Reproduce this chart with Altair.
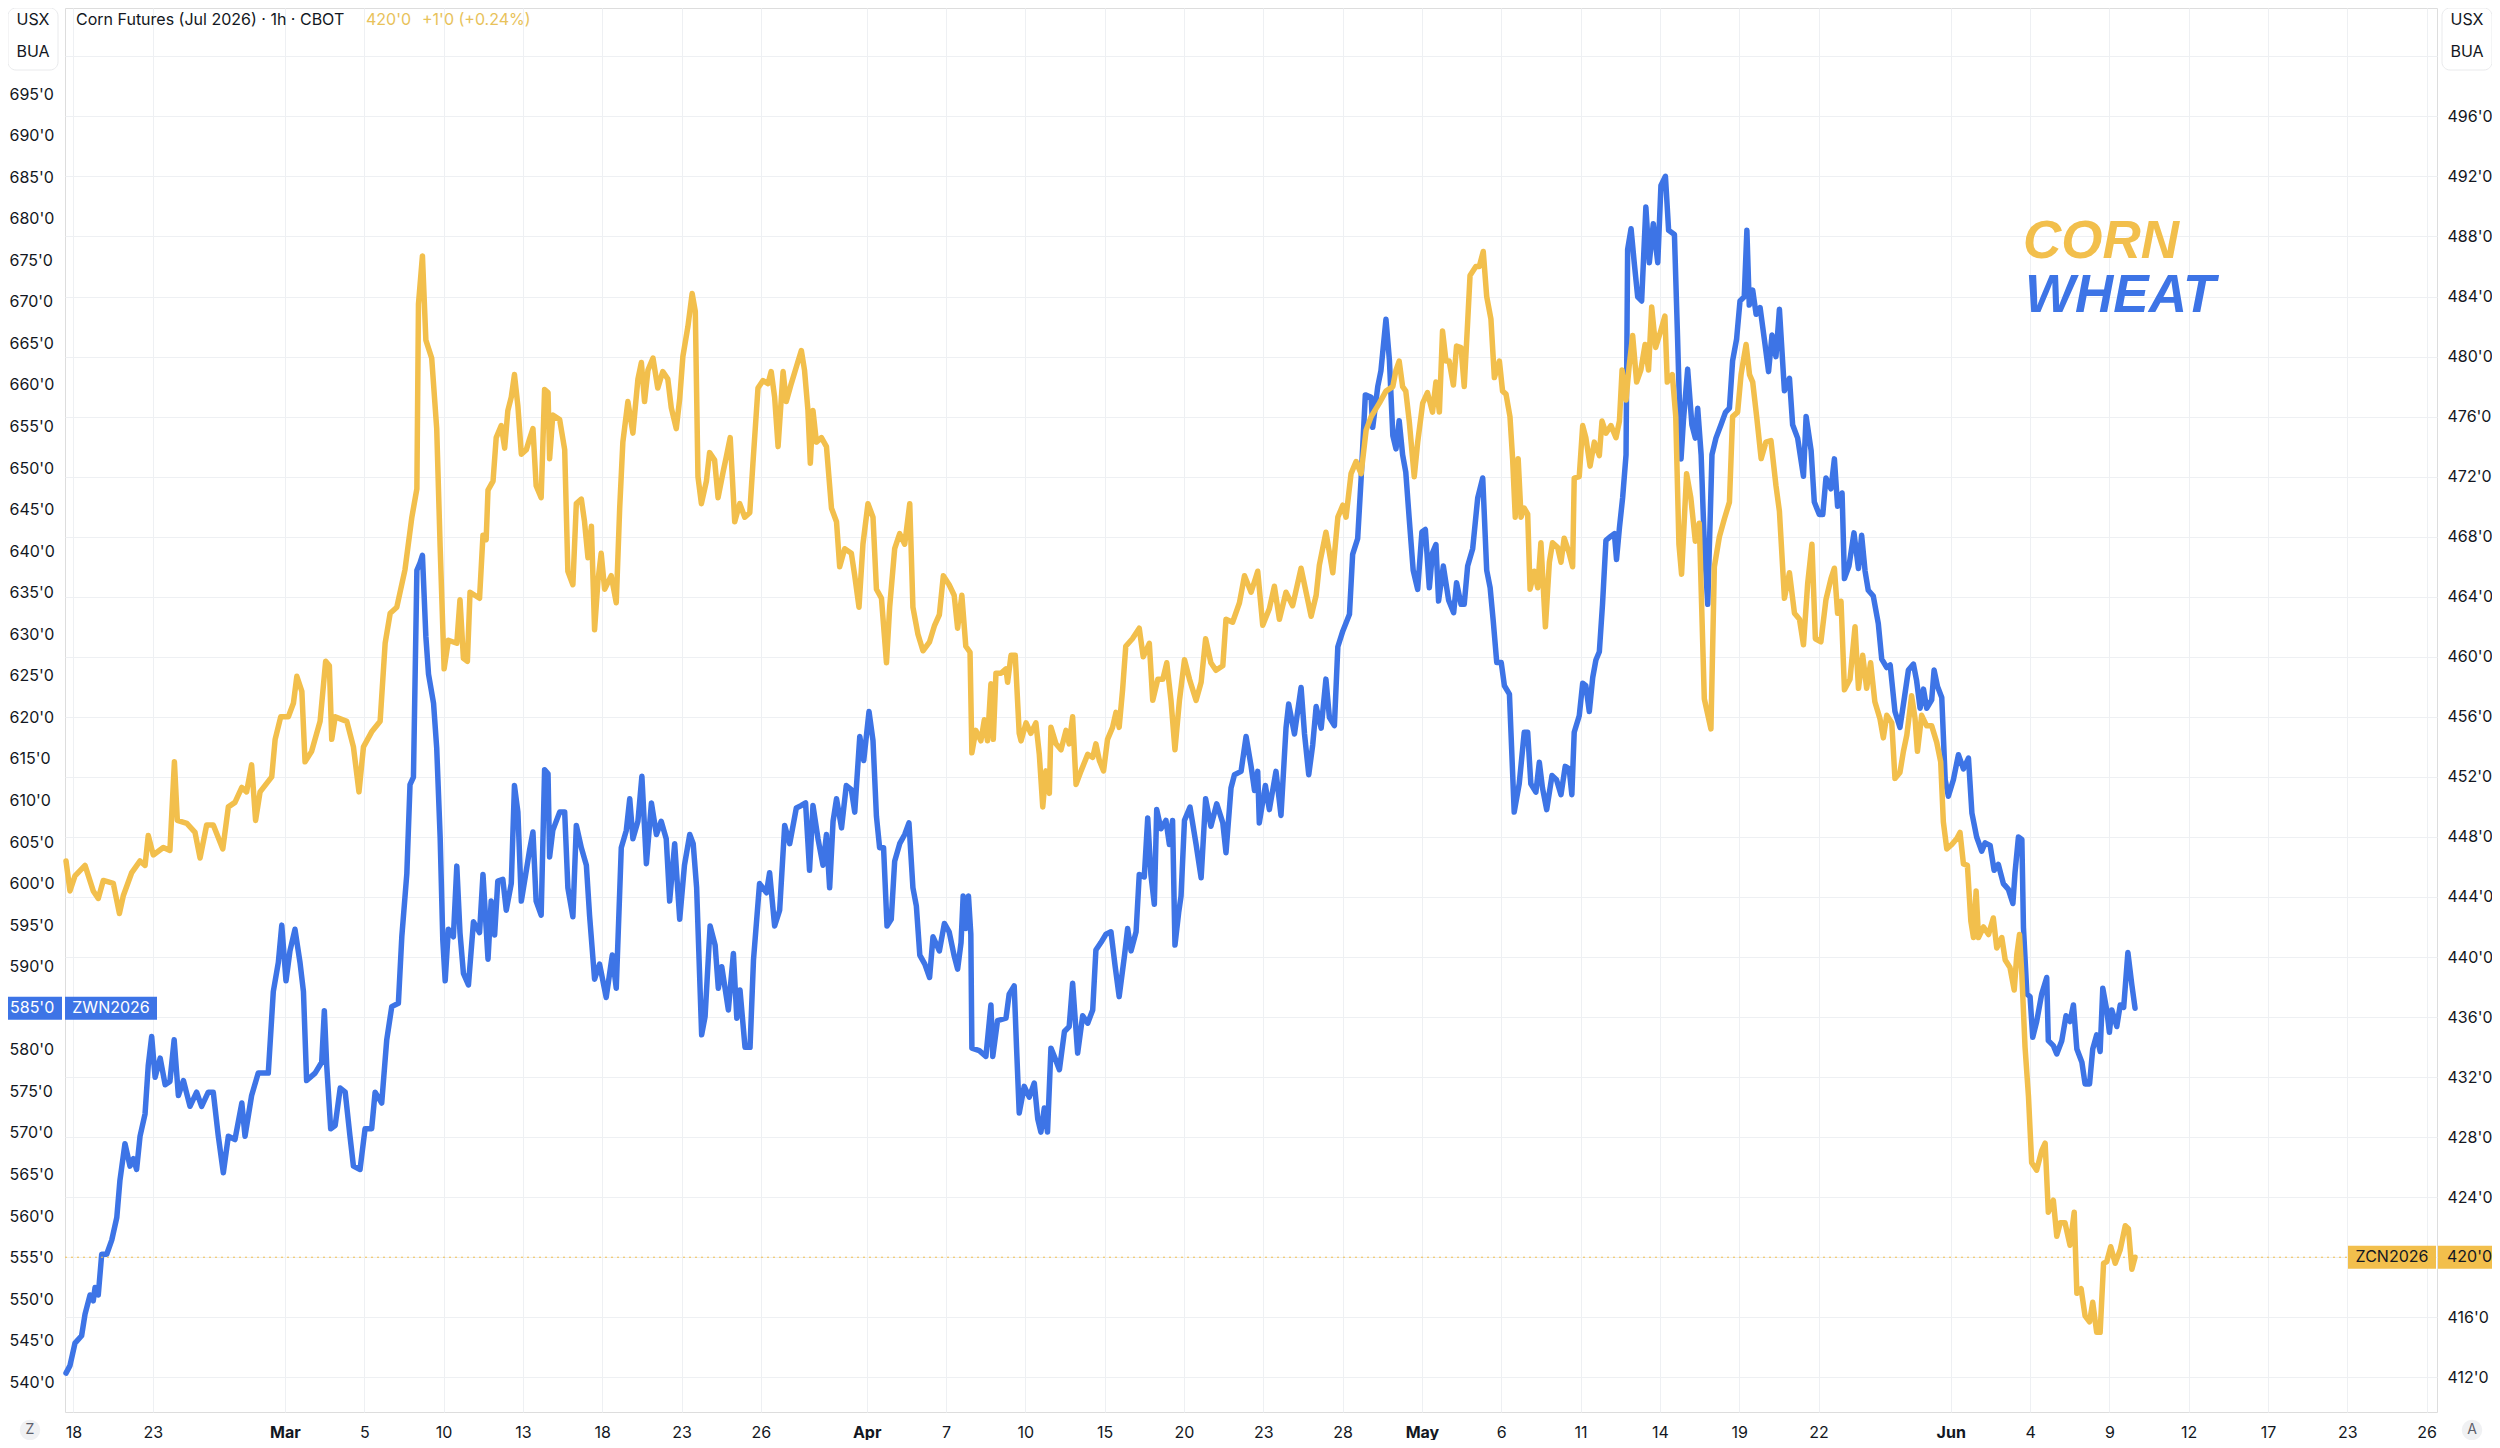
import altair as alt
import pandas as pd

# ---------------- data (x = trading-day index, Feb 18 = 0) ----------------
corn = [
    (-0.28, 446.4), (-0.13, 444.4), (0.06, 445.4), (0.44, 446.1), (0.75, 444.4), (0.94, 443.9), (1.13, 445.1), (1.51, 444.9),
    (1.74, 442.9), (1.89, 444.1), (2.20, 445.6), (2.52, 446.4), (2.71, 446.1), (2.83, 448.1), (3.02, 446.8), (3.40, 447.3),
    (3.65, 447.1), (3.82, 453.0), (3.93, 449.1), (4.29, 448.9), (4.60, 448.3), (4.79, 446.6), (5.04, 448.8), (5.29, 448.8),
    (5.65, 447.2), (5.86, 450.0), (6.11, 450.3), (6.37, 451.3), (6.55, 451.0), (6.74, 452.8), (6.89, 449.1), (7.06, 451.0),
    (7.50, 452.0), (7.63, 454.5), (7.84, 456.0), (8.13, 456.0), (8.32, 456.9), (8.45, 458.7), (8.64, 457.7), (8.76, 453.0),
    (9.01, 453.7), (9.33, 455.7), (9.54, 459.7), (9.68, 459.4), (9.77, 454.5), (9.90, 456.0), (10.34, 455.7), (10.59, 454.0),
    (10.80, 451.0), (10.97, 454.0), (11.28, 455.0), (11.60, 455.7), (11.79, 460.9), (11.98, 462.9), (12.23, 463.3), (12.54, 465.8),
    (12.80, 469.3), (12.99, 471.2), (13.05, 483.5), (13.20, 486.7), (13.33, 481.1), (13.55, 479.9), (13.74, 475.2), (13.87, 467.3),
    (14.02, 459.2), (14.18, 461.1), (14.50, 460.9), (14.62, 463.8), (14.75, 459.9), (14.90, 459.7), (15.00, 464.3), (15.36, 463.9),
    (15.49, 468.1), (15.61, 467.8), (15.68, 471.1), (15.87, 471.7), (15.99, 474.6), (16.18, 475.4), (16.31, 473.9), (16.43, 476.4),
    (16.56, 477.3), (16.68, 478.8), (16.81, 476.7), (16.94, 473.5), (17.13, 473.8), (17.25, 474.5), (17.38, 475.2), (17.50, 471.4),
    (17.69, 470.6), (17.82, 477.8), (17.95, 477.6), (18.01, 473.2), (18.13, 476.1), (18.39, 475.8), (18.58, 473.8), (18.70, 465.7),
    (18.89, 464.8), (19.02, 470.2), (19.21, 470.5), (19.33, 469.0), (19.46, 466.6), (19.59, 468.7), (19.71, 461.8), (19.84, 465.1),
    (19.96, 466.9), (20.09, 464.5), (20.34, 465.4), (20.53, 463.6), (20.66, 469.9), (20.78, 474.3), (20.97, 477.0), (21.16, 474.9),
    (21.35, 478.5), (21.48, 479.6), (21.60, 477.0), (21.73, 479.1), (21.92, 479.9), (22.10, 477.9), (22.29, 479.0), (22.48, 478.5),
    (22.61, 476.6), (22.80, 475.2), (22.93, 477.2), (23.05, 480.0), (23.24, 482.0), (23.40, 484.2), (23.52, 483.0), (23.62, 472.0),
    (23.75, 470.2), (23.94, 471.7), (24.06, 473.6), (24.25, 473.1), (24.38, 470.6), (24.57, 472.3), (24.69, 473.3), (24.84, 474.6),
    (25.01, 469.0), (25.20, 470.2), (25.39, 469.3), (25.58, 469.6), (25.70, 472.9), (25.89, 477.9), (26.08, 478.4), (26.27, 478.2),
    (26.39, 479.0), (26.52, 477.3), (26.65, 474.0), (26.84, 479.0), (26.96, 477.0), (27.15, 478.2), (27.34, 479.3), (27.53, 480.4),
    (27.65, 479.1), (27.78, 476.4), (27.87, 472.9), (27.97, 476.4), (28.10, 474.3), (28.29, 474.6), (28.48, 474.0), (28.67, 469.9),
    (28.86, 469.0), (28.98, 466.0), (29.17, 467.2), (29.42, 466.9), (29.55, 465.4), (29.71, 463.3), (29.86, 467.5), (30.05, 470.2),
    (30.24, 469.3), (30.37, 464.5), (30.56, 463.9), (30.75, 459.6), (30.87, 463.3), (31.06, 467.2), (31.25, 468.2), (31.44, 467.5),
    (31.63, 470.2), (31.75, 463.3), (31.94, 461.5), (32.13, 460.4), (32.38, 461.0), (32.57, 462.1), (32.75, 462.8), (32.90, 465.4),
    (33.12, 464.8), (33.31, 464.1), (33.44, 461.9), (33.60, 464.1), (33.75, 460.7), (33.91, 460.3), (33.98, 453.6), (34.13, 455.1),
    (34.32, 454.4), (34.45, 455.8), (34.57, 454.4), (34.70, 458.2), (34.79, 454.5), (34.89, 458.9), (35.08, 458.9), (35.27, 459.2),
    (35.33, 458.3), (35.46, 460.1), (35.62, 460.1), (35.77, 454.9), (35.84, 454.4), (36.03, 455.6), (36.21, 454.9), (36.40, 455.6),
    (36.53, 453.5), (36.66, 450.0), (36.78, 452.4), (36.91, 450.9), (36.97, 455.3), (37.16, 454.2), (37.35, 453.8), (37.54, 455.1),
    (37.66, 454.2), (37.79, 456.0), (37.92, 451.5), (38.11, 452.4), (38.36, 453.5), (38.55, 453.3), (38.67, 454.2), (38.80, 453.1),
    (38.96, 452.4), (39.11, 454.5), (39.30, 455.3), (39.43, 456.3), (39.55, 455.3), (39.68, 457.8), (39.80, 460.7), (40.05, 461.2),
    (40.31, 461.9), (40.46, 460.0), (40.69, 460.9), (40.82, 457.1), (41.01, 458.5), (41.20, 458.5), (41.35, 459.6), (41.51, 457.1),
    (41.66, 453.8), (41.83, 457.1), (42.02, 459.8), (42.21, 458.5), (42.46, 457.1), (42.65, 458.3), (42.82, 461.2), (43.02, 459.6),
    (43.21, 459.1), (43.47, 459.4), (43.59, 462.5), (43.84, 462.3), (44.10, 463.6), (44.29, 465.4), (44.54, 464.3), (44.79, 465.7),
    (44.98, 462.1), (45.23, 463.2), (45.42, 464.7), (45.61, 462.5), (45.86, 464.3), (46.11, 463.4), (46.43, 465.9), (46.62, 464.3),
    (46.81, 462.7), (47.00, 464.1), (47.12, 466.1), (47.37, 468.3), (47.63, 465.6), (47.82, 469.3), (48.01, 470.1), (48.13, 469.3),
    (48.32, 472.2), (48.51, 473.0), (48.70, 472.2), (48.89, 475.1), (49.08, 476.0), (49.39, 476.9), (49.64, 477.7), (49.90, 478.0),
    (50.02, 479.1), (50.14, 479.7), (50.27, 478.0), (50.39, 477.7), (50.52, 475.7), (50.71, 472.0), (50.84, 474.3), (51.03, 476.9),
    (51.21, 477.6), (51.40, 476.3), (51.53, 478.3), (51.66, 476.3), (51.78, 481.7), (51.91, 479.7), (52.03, 479.7), (52.19, 478.1),
    (52.31, 480.7), (52.48, 480.6), (52.60, 478.0), (52.73, 482.3), (52.82, 485.4), (53.04, 486.0), (53.17, 486.0), (53.32, 487.0),
    (53.45, 484.0), (53.61, 482.5), (53.74, 478.6), (53.93, 479.7), (54.05, 477.7), (54.18, 477.5), (54.33, 476.0), (54.43, 473.2),
    (54.53, 469.3), (54.64, 473.2), (54.75, 469.3), (54.87, 469.9), (55.00, 469.5), (55.09, 464.5), (55.25, 465.7), (55.38, 464.6),
    (55.50, 467.6), (55.67, 462.0), (55.82, 466.3), (55.94, 467.6), (56.13, 467.3), (56.26, 466.3), (56.38, 467.9), (56.57, 466.9),
    (56.70, 466.0), (56.76, 471.9), (56.95, 472.0), (57.08, 475.4), (57.20, 474.6), (57.36, 472.7), (57.52, 474.3), (57.71, 473.4),
    (57.81, 475.7), (57.96, 474.9), (58.15, 475.4), (58.34, 474.6), (58.47, 475.7), (58.57, 479.1), (58.72, 477.1), (58.84, 479.4),
    (58.97, 481.4), (59.12, 478.3), (59.28, 479.1), (59.44, 480.8), (59.57, 479.1), (59.69, 483.3), (59.84, 480.6), (60.03, 481.7),
    (60.19, 482.7), (60.28, 478.3), (60.47, 478.8), (60.60, 476.0), (60.72, 467.5), (60.82, 465.5), (61.01, 472.2), (61.17, 470.6),
    (61.34, 467.7), (61.49, 468.9), (61.68, 457.2), (61.93, 455.2), (62.06, 466.0), (62.25, 468.0), (62.44, 469.2), (62.63, 470.3),
    (62.75, 476.0), (62.94, 476.3), (63.07, 478.8), (63.26, 480.8), (63.39, 478.8), (63.51, 478.3), (63.66, 476.0), (63.83, 473.2),
    (64.01, 474.3), (64.20, 474.4), (64.39, 471.4), (64.52, 469.7), (64.71, 463.9), (64.90, 465.6), (65.09, 462.9), (65.28, 462.5),
    (65.43, 460.8), (65.59, 464.9), (65.75, 467.5), (65.88, 461.2), (66.09, 461.0), (66.28, 463.8), (66.47, 465.2), (66.60, 465.9),
    (66.72, 462.9), (66.85, 463.7), (66.98, 457.8), (67.19, 458.5), (67.38, 462.0), (67.51, 457.9), (67.67, 460.1), (67.82, 457.9),
    (67.97, 459.6), (68.13, 457.0), (68.32, 455.9), (68.45, 454.6), (68.58, 456.1), (68.77, 455.6), (68.89, 451.9), (69.08, 452.3),
    (69.21, 453.7), (69.34, 454.8), (69.52, 457.4), (69.65, 455.9), (69.74, 453.7), (69.90, 456.1), (70.09, 455.4), (70.28, 455.4),
    (70.47, 454.3), (70.62, 453.0), (70.72, 449.0), (70.85, 447.2), (71.04, 447.5), (71.23, 447.9), (71.35, 448.3), (71.48, 446.2),
    (71.63, 446.1), (71.76, 442.4), (71.86, 441.3), (71.96, 444.4), (72.05, 441.3), (72.24, 442.0), (72.43, 441.5), (72.61, 442.6),
    (72.74, 440.6), (72.93, 441.3), (73.06, 439.8), (73.24, 439.3), (73.40, 437.8), (73.50, 440.2), (73.60, 441.5), (73.69, 438.8),
    (73.81, 434.0), (73.94, 430.7), (74.06, 426.3), (74.25, 425.8), (74.44, 427.1), (74.57, 427.6), (74.69, 423.0), (74.88, 423.8),
    (75.01, 421.4), (75.14, 422.3), (75.32, 422.3), (75.51, 420.8), (75.67, 423.0), (75.77, 417.6), (75.93, 417.9), (76.08, 416.1),
    (76.25, 415.7), (76.37, 417.0), (76.52, 415.0), (76.65, 415.0), (76.78, 419.6), (76.90, 419.7), (77.05, 420.7), (77.22, 419.6),
    (77.41, 420.5), (77.60, 422.1), (77.72, 421.9), (77.85, 419.2), (77.97, 420.0),
]

wheat = [
    (-0.28, 541.1), (-0.13, 542.0), (0.06, 544.7), (0.31, 545.6), (0.44, 548.2), (0.63, 550.5), (0.75, 549.8), (0.82, 551.4),
    (0.94, 550.5), (1.07, 555.4), (1.26, 555.4), (1.45, 557.1), (1.64, 559.8), (1.76, 564.3), (1.95, 568.7), (2.14, 566.0),
    (2.27, 566.9), (2.39, 565.6), (2.52, 569.6), (2.71, 572.3), (2.83, 578.1), (2.96, 581.6), (3.09, 576.7), (3.28, 579.0),
    (3.47, 575.8), (3.65, 576.2), (3.81, 581.2), (3.97, 574.5), (4.16, 576.3), (4.41, 573.2), (4.66, 574.9), (4.85, 573.2),
    (5.10, 574.9), (5.29, 574.9), (5.48, 569.6), (5.67, 565.2), (5.86, 569.6), (6.11, 569.2), (6.37, 573.6), (6.49, 569.6),
    (6.74, 574.5), (6.99, 577.2), (7.37, 577.2), (7.56, 587.0), (7.75, 590.5), (7.88, 595.0), (8.04, 588.3), (8.19, 591.9),
    (8.38, 594.5), (8.57, 590.5), (8.70, 587.0), (8.82, 576.3), (9.14, 577.2), (9.39, 578.5), (9.49, 584.7), (9.58, 578.1),
    (9.73, 570.5), (9.90, 570.9), (10.09, 575.4), (10.28, 574.9), (10.46, 569.6), (10.59, 566.0), (10.84, 565.6), (11.03, 570.5),
    (11.28, 570.5), (11.41, 574.9), (11.66, 573.6), (11.85, 581.2), (12.04, 585.2), (12.29, 585.6), (12.42, 593.6), (12.61, 601.2),
    (12.73, 611.9), (12.86, 612.8), (12.99, 637.7), (13.11, 638.6), (13.20, 639.5), (13.33, 629.7), (13.43, 625.2), (13.62, 621.7),
    (13.74, 616.3), (13.87, 605.6), (13.97, 593.2), (14.06, 588.3), (14.18, 594.5), (14.37, 593.6), (14.50, 602.1), (14.62, 594.1),
    (14.75, 589.2), (14.94, 587.8), (15.13, 595.4), (15.36, 594.1), (15.49, 601.1), (15.68, 590.9), (15.80, 597.9), (15.93, 593.8),
    (16.05, 600.3), (16.24, 600.5), (16.37, 596.8), (16.56, 600.0), (16.68, 611.8), (16.81, 608.6), (16.94, 597.9), (17.13, 601.6),
    (17.25, 604.0), (17.38, 606.2), (17.50, 597.9), (17.69, 596.2), (17.82, 613.7), (17.95, 613.2), (18.01, 603.2), (18.13, 606.4),
    (18.39, 608.6), (18.58, 608.6), (18.70, 599.5), (18.89, 596.0), (19.02, 607.0), (19.21, 604.3), (19.40, 602.2), (19.52, 596.2),
    (19.71, 588.5), (19.90, 590.3), (20.15, 586.3), (20.38, 591.4), (20.53, 587.4), (20.72, 604.3), (20.91, 606.4), (21.04, 610.2),
    (21.16, 605.4), (21.35, 607.5), (21.50, 612.9), (21.67, 602.4), (21.86, 609.7), (22.05, 605.9), (22.23, 607.5), (22.42, 605.4),
    (22.55, 597.9), (22.74, 604.8), (22.93, 595.7), (23.11, 602.2), (23.31, 605.9), (23.44, 604.8), (23.57, 599.5), (23.76, 581.8),
    (23.89, 584.0), (24.08, 594.9), (24.27, 592.6), (24.39, 587.4), (24.52, 590.0), (24.77, 584.8), (24.96, 591.6), (25.09, 583.8),
    (25.21, 587.2), (25.40, 580.3), (25.59, 580.3), (25.72, 590.8), (25.95, 600.0), (26.21, 598.9), (26.33, 601.3), (26.52, 594.9),
    (26.71, 596.8), (26.90, 607.0), (27.09, 604.8), (27.34, 609.1), (27.53, 609.4), (27.69, 609.7), (27.84, 601.6), (27.97, 609.4),
    (28.16, 605.4), (28.35, 602.2), (28.48, 605.9), (28.60, 599.5), (28.73, 607.5), (28.86, 610.2), (29.05, 606.7), (29.23, 611.8),
    (29.42, 611.3), (29.55, 608.6), (29.74, 617.7), (29.89, 614.8), (30.09, 620.7), (30.24, 617.2), (30.37, 608.1), (30.49, 604.3),
    (30.64, 604.3), (30.77, 594.9), (30.93, 595.7), (31.06, 602.7), (31.25, 604.8), (31.44, 605.9), (31.60, 607.3), (31.75, 599.5),
    (31.88, 597.3), (32.01, 591.4), (32.20, 590.3), (32.38, 588.7), (32.51, 593.6), (32.75, 591.9), (32.94, 595.2), (33.12, 594.2),
    (33.31, 591.3), (33.44, 589.7), (33.57, 592.9), (33.65, 598.5), (33.75, 594.6), (33.85, 598.5), (33.94, 593.9), (33.98, 580.2),
    (34.26, 579.9), (34.51, 579.2), (34.70, 585.4), (34.77, 579.2), (34.95, 583.5), (35.27, 583.8), (35.39, 586.7), (35.58, 587.7),
    (35.67, 580.2), (35.77, 572.4), (35.96, 575.6), (36.15, 574.3), (36.34, 576.0), (36.47, 571.7), (36.59, 570.1), (36.72, 573.0),
    (36.84, 570.1), (36.97, 580.2), (37.10, 579.2), (37.29, 577.6), (37.48, 582.2), (37.66, 582.8), (37.79, 588.0), (37.98, 579.6),
    (38.17, 584.1), (38.36, 583.2), (38.55, 584.8), (38.67, 592.0), (38.86, 592.9), (39.05, 593.9), (39.24, 594.2), (39.40, 590.0),
    (39.55, 586.4), (39.75, 591.3), (39.87, 594.6), (40.00, 591.9), (40.19, 594.2), (40.31, 601.1), (40.50, 600.8), (40.63, 607.9),
    (40.75, 601.1), (40.88, 597.5), (40.97, 608.9), (41.13, 606.6), (41.32, 607.6), (41.45, 604.7), (41.57, 607.6), (41.66, 592.6),
    (41.80, 596.5), (41.89, 598.5), (42.02, 607.6), (42.23, 609.2), (42.46, 604.7), (42.65, 600.7), (42.82, 610.2), (43.02, 606.9),
    (43.24, 609.6), (43.47, 607.3), (43.59, 603.7), (43.78, 611.5), (43.91, 613.1), (44.16, 613.5), (44.35, 617.7), (44.54, 614.1),
    (44.67, 611.2), (44.79, 613.5), (44.85, 607.3), (45.08, 611.8), (45.23, 608.9), (45.48, 613.5), (45.67, 608.2), (45.86, 618.7),
    (45.96, 621.6), (46.18, 618.0), (46.43, 623.6), (46.56, 618.0), (46.72, 613.1), (46.87, 616.7), (47.00, 621.3), (47.19, 618.7),
    (47.37, 624.6), (47.50, 620.0), (47.69, 619.0), (47.82, 628.5), (48.01, 630.4), (48.26, 632.4), (48.38, 639.6), (48.57, 641.5),
    (48.70, 648.7), (48.86, 658.8), (49.08, 658.5), (49.14, 654.9), (49.33, 659.8), (49.45, 661.7), (49.64, 667.9), (49.77, 663.0),
    (49.90, 653.9), (50.02, 652.3), (50.14, 655.7), (50.27, 651.6), (50.39, 649.5), (50.52, 643.9), (50.67, 637.7), (50.84, 635.4),
    (51.00, 642.3), (51.13, 642.6), (51.28, 635.6), (51.40, 639.8), (51.53, 640.8), (51.63, 634.0), (51.81, 638.2), (52.01, 634.1),
    (52.20, 632.6), (52.31, 636.2), (52.48, 633.6), (52.60, 633.6), (52.73, 638.2), (52.92, 640.3), (53.11, 646.4), (53.30, 648.8),
    (53.45, 637.7), (53.58, 635.6), (53.70, 631.5), (53.83, 626.6), (54.00, 626.6), (54.12, 623.8), (54.31, 622.8), (54.49, 608.6),
    (54.68, 612.0), (54.87, 618.2), (55.00, 618.2), (55.12, 612.0), (55.31, 611.0), (55.44, 614.6), (55.56, 611.5), (55.72, 608.9),
    (55.92, 613.0), (56.09, 612.5), (56.26, 610.7), (56.42, 614.1), (56.57, 613.8), (56.67, 610.7), (56.76, 618.2), (56.95, 620.2),
    (57.08, 624.1), (57.20, 623.8), (57.33, 620.7), (57.46, 624.8), (57.58, 626.9), (57.71, 627.9), (57.83, 633.6), (57.96, 641.3),
    (58.15, 641.8), (58.28, 642.1), (58.36, 639.0), (58.47, 642.8), (58.59, 646.4), (58.72, 651.6), (58.78, 676.3), (58.91, 678.8),
    (59.03, 674.7), (59.16, 670.6), (59.31, 670.1), (59.47, 681.4), (59.60, 674.7), (59.75, 679.4), (59.92, 674.7), (60.04, 684.0),
    (60.21, 685.1), (60.33, 678.6), (60.55, 678.1), (60.67, 665.5), (60.80, 651.1), (60.89, 655.7), (61.05, 661.9), (61.21, 655.2),
    (61.34, 653.6), (61.43, 657.2), (61.56, 651.6), (61.68, 640.8), (61.81, 633.6), (61.97, 651.6), (62.12, 653.6), (62.31, 655.2),
    (62.48, 656.7), (62.63, 657.2), (62.75, 662.9), (62.90, 665.5), (63.03, 670.1), (63.19, 670.6), (63.29, 678.6), (63.38, 669.6),
    (63.51, 671.4), (63.64, 668.5), (63.79, 669.3), (63.95, 665.5), (64.11, 661.6), (64.24, 666.0), (64.39, 663.4), (64.52, 669.1),
    (64.71, 659.3), (64.90, 660.8), (65.02, 655.2), (65.21, 653.6), (65.43, 649.0), (65.53, 656.2), (65.72, 652.1), (65.84, 645.9),
    (66.03, 644.4), (66.16, 644.4), (66.28, 648.8), (66.47, 647.5), (66.60, 651.1), (66.72, 645.4), (66.89, 647.0), (66.98, 636.7),
    (67.15, 638.2), (67.34, 642.2), (67.51, 637.9), (67.63, 641.9), (67.76, 637.6), (67.88, 635.3), (68.07, 634.6), (68.26, 631.3),
    (68.39, 627.0), (68.58, 626.0), (68.71, 626.3), (68.89, 620.7), (69.08, 618.8), (69.23, 622.0), (69.40, 625.7), (69.59, 626.4),
    (69.71, 624.4), (69.84, 621.1), (69.97, 623.4), (70.09, 621.1), (70.28, 622.1), (70.37, 625.7), (70.50, 623.7), (70.66, 622.4),
    (70.79, 612.5), (70.91, 610.5), (71.10, 612.5), (71.29, 615.5), (71.48, 613.8), (71.67, 615.1), (71.80, 608.5), (71.98, 605.6),
    (72.17, 603.9), (72.30, 604.9), (72.49, 604.6), (72.64, 601.6), (72.80, 602.3), (72.99, 600.0), (73.18, 599.3), (73.35, 597.6),
    (73.43, 601.3), (73.56, 605.6), (73.69, 605.3), (73.75, 594.7), (73.88, 586.7), (74.00, 586.4), (74.10, 581.5), (74.25, 583.4),
    (74.44, 586.7), (74.63, 588.7), (74.69, 581.1), (74.88, 580.5), (75.01, 579.5), (75.20, 581.1), (75.36, 584.1), (75.51, 583.4),
    (75.64, 585.4), (75.77, 580.1), (75.96, 578.5), (76.08, 575.9), (76.25, 575.9), (76.37, 580.1), (76.52, 581.8), (76.65, 579.8),
    (76.75, 587.4), (76.90, 584.8), (77.00, 582.1), (77.09, 584.8), (77.28, 582.8), (77.41, 585.4), (77.54, 585.1), (77.70, 591.7),
    (77.85, 587.8), (77.97, 585.0),
]

tick_t = [0, 3, 8, 11, 14, 17, 20, 23, 26, 30, 33, 36, 39, 42, 45, 48, 51, 54, 57, 60, 63, 66, 71, 74, 77, 80, 83, 86, 89]
tick_lbl = ["18", "23", "Mar", "5", "10", "13", "18", "23", "26", "Apr", "7", "10", "15", "20", "23", "28",
            "May", "6", "11", "14", "19", "22", "Jun", "4", "9", "12", "17", "23", "26"]
month_t = [8, 30, 51, 71]
corn_ticks = list(range(412, 501, 4))
wheat_ticks = list(range(540, 696, 5))

# ---------------- style ----------------
CORN_COL = "#F2BF4C"
WHEAT_COL = "#3D74E6"
TXT = "#131722"
GRID = "#EEF0F3"
FONT = "Inter"

W, H = 2372, 1404
x_dom = [-0.318, 89.39]
corn_dom = [409.69, 503.22]
wheat_dom = [536.42, 705.35]

corn_df = pd.DataFrame(corn, columns=["t", "v"])
wheat_df = pd.DataFrame(wheat, columns=["t", "v"])

lbl_expr = ("[" + ",".join(f"'{s}'" for s in tick_lbl) + "][indexof(["
            + ",".join(str(v) for v in tick_t) + "], datum.value)]")
month_test = "indexof([" + ",".join(str(v) for v in month_t) + "], datum.value) >= 0"

x_axis = alt.Axis(values=tick_t, labelExpr=lbl_expr, grid=True, gridColor=GRID, gridWidth=1,
                  domain=False, ticks=False, tickSize=0, labelFont=FONT, labelFontSize=16,
                  labelColor=TXT, labelPadding=12, labelFlush=False, labelOverlap=False,
                  labelFontWeight={"condition": {"test": month_test, "value": "bold"}, "value": "normal"},
                  title=None)
x_enc = alt.X("t:Q", scale=alt.Scale(domain=x_dom, nice=False, zero=False), axis=x_axis)

corn_axis = alt.Axis(orient="right", values=corn_ticks,
                     labelExpr="datum.value >= 500 ? '' : datum.value + \"'0\"",
                     grid=True, gridColor=GRID, gridWidth=1, domain=False, ticks=False, tickSize=0,
                     labelPadding=10, labelAlign="left", labelBaseline="middle", labelFont=FONT,
                     labelFontSize=16, labelColor=TXT, labelOverlap=False, title=None)
wheat_axis = alt.Axis(orient="left", values=wheat_ticks, labelExpr="datum.value + \"'0\"",
                      grid=False, domain=False, ticks=False, tickSize=0, labelPadding=56,
                      labelAlign="left", labelBaseline="middle", labelFont=FONT, labelFontSize=16,
                      labelColor=TXT, labelOverlap=False, title=None)

corn_y = alt.Y("v:Q", scale=alt.Scale(domain=corn_dom, nice=False, zero=False), axis=corn_axis)
wheat_y = alt.Y("v:Q", scale=alt.Scale(domain=wheat_dom, nice=False, zero=False), axis=wheat_axis)

# ---------------- series ----------------
wheat_line = alt.Chart(wheat_df).mark_line(color=WHEAT_COL, strokeWidth=5.5, strokeJoin="round",
                                           strokeCap="round").encode(x=x_enc, y=wheat_y)
corn_line = alt.Chart(corn_df).mark_line(color=CORN_COL, strokeWidth=5.5, strokeJoin="round",
                                         strokeCap="round").encode(x=x_enc, y=corn_y)

# ---------------- price tags (last values) ----------------
wheat_tag = pd.DataFrame({"v": [wheat[-1][1]], "price": [f"{round(wheat[-1][1])}'0"], "sym": ["ZWN2026"]})
corn_tag = pd.DataFrame({"v": [corn[-1][1]], "price": [f"{round(corn[-1][1])}'0"], "sym": ["ZCN2026"]})

w_box1 = alt.Chart(wheat_tag).mark_rule(color=WHEAT_COL, strokeWidth=23).encode(
    x=alt.value(-57), x2=alt.value(-3), y=wheat_y)
w_box2 = alt.Chart(wheat_tag).mark_rule(color=WHEAT_COL, strokeWidth=23).encode(
    x=alt.value(0), x2=alt.value(92), y=wheat_y)
w_txt1 = alt.Chart(wheat_tag).mark_text(align="left", baseline="middle", color="white", font=FONT,
                                        fontSize=16).encode(x=alt.value(-55), y=wheat_y, text="price:N")
w_txt2 = alt.Chart(wheat_tag).mark_text(align="center", baseline="middle", color="white", font=FONT,
                                        fontSize=16).encode(x=alt.value(46), y=wheat_y, text="sym:N")

c_dot = alt.Chart(corn_tag).mark_rule(color=CORN_COL, strokeWidth=1, strokeDash=[2, 4]).encode(
    x=alt.value(0), x2=alt.value(2283), y=corn_y)
c_box1 = alt.Chart(corn_tag).mark_rule(color=CORN_COL, strokeWidth=23).encode(
    x=alt.value(2283), x2=alt.value(2371), y=corn_y)
c_box2 = alt.Chart(corn_tag).mark_rule(color=CORN_COL, strokeWidth=23).encode(
    x=alt.value(2373), x2=alt.value(2427), y=corn_y)
c_txt1 = alt.Chart(corn_tag).mark_text(align="center", baseline="middle", color=TXT, font=FONT,
                                       fontSize=16).encode(x=alt.value(2327), y=corn_y, text="sym:N")
c_txt2 = alt.Chart(corn_tag).mark_text(align="left", baseline="middle", color=TXT, font=FONT,
                                       fontSize=16).encode(x=alt.value(2382), y=corn_y, text="price:N")


# ---------------- annotations ----------------
def label(txt, x, y, color=TXT, size=17, weight="normal", style="normal", align="left",
          baseline="middle", font=FONT):
    return alt.Chart(pd.DataFrame({"s": [txt]})).mark_text(
        align=align, baseline=baseline, color=color, fontSize=size, fontWeight=weight,
        fontStyle=style, font=font).encode(x=alt.value(x), y=alt.value(y), text="s:N")


def box(x, x2, y, y2, fill="white", stroke="#E9EAEC", radius=8):
    return alt.Chart(pd.DataFrame({"a": [0]})).mark_rect(
        fill=fill, stroke=stroke, strokeWidth=1, cornerRadius=radius).encode(
        x=alt.value(x), x2=alt.value(x2), y=alt.value(y), y2=alt.value(y2))


def dot(x, y):
    return alt.Chart(pd.DataFrame({"a": [0]})).mark_circle(size=420, color="#F0F1F3", opacity=1).encode(
        x=alt.value(x), y=alt.value(y))


annot = alt.layer(
    box(-57, -7, 0, 62), box(2377, 2427, 0, 62),
    label("USX", -32, 12, align="center", size=16), label("BUA", -32, 44, align="center", size=16),
    label("USX", 2402, 12, align="center", size=16), label("BUA", 2402, 44, align="center", size=16),
    label("Corn Futures (Jul 2026) · 1h · CBOT", 11, 12, size=16),
    label("420'0", 301, 12, color="#E8C25A", size=16),
    label("+1'0 (+0.24%)", 357, 12, color="#E8C25A", size=16),
    label("CORN", 1958, 250, color=CORN_COL, size=53, weight="bold", style="italic",
          baseline="alphabetic", font="Liberation Sans"),
    label("WHEAT", 1960, 304, color=WHEAT_COL, size=53, weight="bold", style="italic",
          baseline="alphabetic", font="Liberation Sans"),
    dot(-35, 1422), label("Z", -35, 1422, color="#5D606B", size=14, align="center"),
    dot(2407, 1422), label("A", 2407, 1422, color="#5D606B", size=14, align="center"),
)

wheat_layer = alt.layer(wheat_line, w_box1, w_box2, w_txt1, w_txt2)
corn_layer = alt.layer(corn_line, c_dot, c_box1, c_box2, c_txt1, c_txt2)

chart = alt.layer(wheat_layer, corn_layer, annot).resolve_scale(y="independent").properties(
    width=W, height=H,
    padding={"left": 57, "top": 0, "right": 55, "bottom": 28},
    autosize=alt.AutoSizeParams(type="none"),
).configure_view(stroke=None).configure(background="white")

chart.save("out.html", embed_options={"renderer": "svg", "actions": False})
